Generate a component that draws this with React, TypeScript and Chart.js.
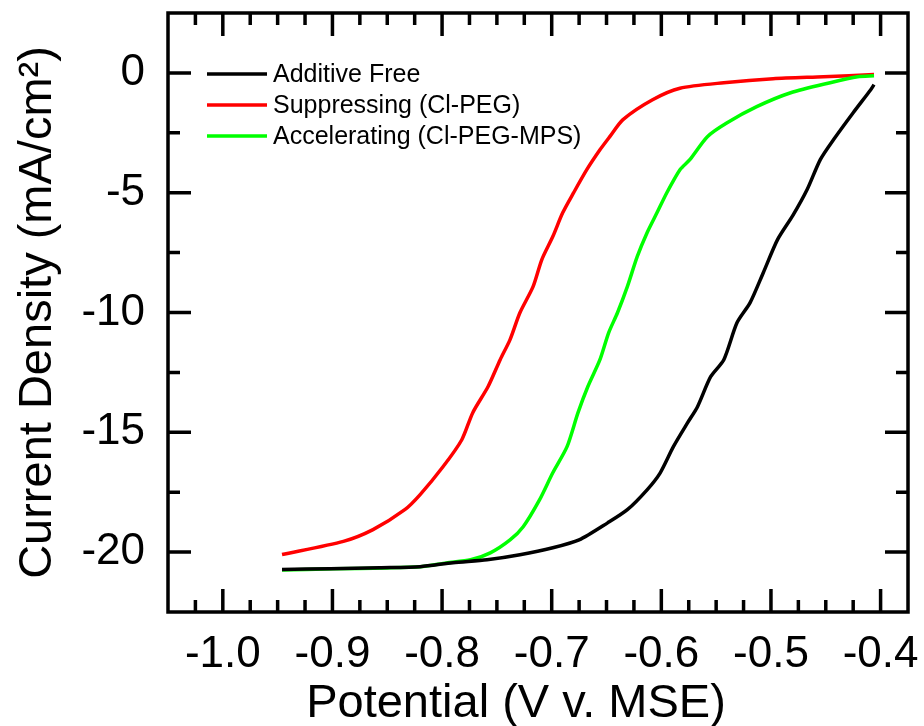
import React, { useEffect, useRef } from "react";
import { Chart, registerables } from "chart.js";

Chart.register(...registerables);

// ---------- data ----------
const seriesLabels = ["Additive Free", "Suppressing (Cl-PEG)", "Accelerating (Cl-PEG-MPS)"];
const seriesColors = ["#000000", "#ff0000", "#00ff00"];

const additiveFreeX = [-0.946, -0.902, -0.857, -0.82, -0.79, -0.759, -0.729, -0.699, -0.675, -0.649, -0.631, -0.613, -0.601, -0.589, -0.576, -0.567, -0.555, -0.543, -0.531, -0.519, -0.507, -0.494, -0.48, -0.467, -0.455, -0.443, -0.425, -0.409, -0.406];
const additiveFreeY = [-20.73, -20.69, -20.65, -20.61, -20.44, -20.32, -20.11, -19.82, -19.49, -18.78, -18.23, -17.4, -16.69, -15.6, -14.6, -13.93, -12.68, -11.97, -10.43, -9.59, -8.34, -6.96, -5.95, -4.87, -3.62, -2.79, -1.66, -0.7, -0.49];

const suppressingX = [-0.946, -0.89, -0.863, -0.834, -0.82, -0.799, -0.782, -0.772, -0.758, -0.747, -0.738, -0.729, -0.717, -0.709, -0.699, -0.69, -0.68, -0.668, -0.656, -0.647, -0.635, -0.608, -0.583, -0.543, -0.498, -0.452, -0.406];
const suppressingY = [-20.1, -19.55, -19.06, -18.23, -17.6, -16.43, -15.31, -14.18, -13.09, -11.97, -11.13, -10.01, -8.92, -7.79, -6.83, -5.84, -5.0, -4.04, -3.21, -2.66, -1.95, -1.12, -0.64, -0.41, -0.24, -0.16, -0.07];

const acceleratingX = [-0.946, -0.9, -0.85, -0.82, -0.796, -0.774, -0.756, -0.738, -0.726, -0.711, -0.699, -0.686, -0.676, -0.667, -0.656, -0.648, -0.64, -0.631, -0.622, -0.613, -0.604, -0.595, -0.583, -0.574, -0.558, -0.54, -0.513, -0.482, -0.446, -0.421, -0.406];
const acceleratingY = [-20.75, -20.7, -20.66, -20.61, -20.45, -20.32, -20.03, -19.49, -18.94, -17.81, -16.69, -15.6, -14.18, -13.09, -11.97, -10.84, -10.01, -8.92, -7.67, -6.67, -5.84, -5.0, -4.04, -3.62, -2.66, -2.08, -1.41, -0.83, -0.41, -0.16, -0.12];

const xMajorTicks = [-1.0, -0.9, -0.8, -0.7, -0.6, -0.5, -0.4];
const xMinorTicks = [-1.025, -0.975, -0.95, -0.925, -0.875, -0.85, -0.825, -0.775, -0.75, -0.725, -0.675, -0.65, -0.625, -0.575, -0.55, -0.525, -0.475, -0.45, -0.425];
const yMajorTicks = [0, -5, -10, -15, -20];
const yMinorTicks = [-2.5, -7.5, -12.5, -17.5];

const xMin = -1.05;
const xMax = -0.375;
const yMin = -22.5;
const yMax = 2.5;

const xTitle = "Potential (V v. MSE)";
const yTitle = "Current Density (mA/cm\u00B2)";

const FONT = "'Liberation Sans', Arial, Helvetica, sans-serif";

const toPoints = (xs: number[], ys: number[]) => xs.map((x, i) => ({ x, y: ys[i] }));

// ---------- plugins ----------
const frameTicksPlugin = {
  id: "frameTicks",
  afterDatasetsDraw(chart: any) {
    const { ctx, chartArea } = chart;
    const xs = chart.scales.x;
    const ys = chart.scales.y;
    const { left, right, top, bottom } = chartArea;
    const major = 23;
    const minor = 12;
    ctx.save();
    ctx.strokeStyle = "#000";
    ctx.lineWidth = 3.5;
    ctx.lineCap = "butt";
    ctx.beginPath();
    const vx = (v: number, len: number) => {
      const p = xs.getPixelForValue(v);
      ctx.moveTo(p, bottom);
      ctx.lineTo(p, bottom - len);
      ctx.moveTo(p, top);
      ctx.lineTo(p, top + len);
    };
    const vy = (v: number, len: number) => {
      const p = ys.getPixelForValue(v);
      ctx.moveTo(left, p);
      ctx.lineTo(left + len, p);
      ctx.moveTo(right, p);
      ctx.lineTo(right - len, p);
    };
    xMajorTicks.forEach((v) => vx(v, major));
    xMinorTicks.forEach((v) => vx(v, minor));
    yMajorTicks.forEach((v) => vy(v, major));
    yMinorTicks.forEach((v) => vy(v, minor));
    ctx.stroke();
    ctx.lineJoin = "miter";
    ctx.strokeRect(left, top, right - left, bottom - top);
    ctx.restore();
  },
};

const xTitlePlugin = {
  id: "xTitleText",
  afterDraw(chart: any) {
    const { ctx, chartArea } = chart;
    ctx.save();
    ctx.font = `47px ${FONT}`;
    ctx.fillStyle = "#000";
    ctx.textAlign = "center";
    ctx.textBaseline = "alphabetic";
    ctx.fillText(xTitle, chartArea.left + 348, chartArea.bottom + 105);
    ctx.restore();
  },
};

const legendPlugin = {
  id: "innerLegend",
  afterDraw(chart: any) {
    const { ctx, chartArea } = chart;
    ctx.save();
    ctx.font = `25px ${FONT}`;
    ctx.textBaseline = "middle";
    ctx.textAlign = "left";
    chart.data.datasets.forEach((ds: any, i: number) => {
      const y = chartArea.top + 61 + i * 31;
      ctx.strokeStyle = ds.borderColor;
      ctx.lineWidth = 3.5;
      ctx.beginPath();
      ctx.moveTo(chartArea.left + 39, y);
      ctx.lineTo(chartArea.left + 99, y);
      ctx.stroke();
      ctx.fillStyle = "#000";
      ctx.fillText(ds.label, chartArea.left + 105, y + 1);
    });
    ctx.restore();
  },
};

export default function App() {
  const canvasRef = useRef<HTMLCanvasElement>(null);

  useEffect(() => {
    const seriesX = [additiveFreeX, suppressingX, acceleratingX];
    const seriesY = [additiveFreeY, suppressingY, acceleratingY];
    const drawOrder = [0, 2, 1];
    const datasets = seriesLabels.map((label, i) => ({
      label,
      data: toPoints(seriesX[i], seriesY[i]),
      borderColor: seriesColors[i],
      backgroundColor: seriesColors[i],
      borderWidth: 3.5,
      pointRadius: 0,
      showLine: true,
      tension: 0.25,
      fill: false,
      order: drawOrder[i],
    }));

    const chart = new Chart(canvasRef.current as HTMLCanvasElement, {
      type: "scatter",
      data: { datasets },
      options: {
        animation: false,
        responsive: false,
        devicePixelRatio: 1,
        layout: { padding: { top: 13, right: 16, left: 0, bottom: 0 } },
        plugins: {
          legend: { display: false },
          tooltip: { enabled: false },
        },
        scales: {
          x: {
            type: "linear",
            min: xMin,
            max: xMax,
            grid: { display: false, drawTicks: false },
            border: { display: false },
            afterBuildTicks: (s: any) => {
              s.ticks = xMajorTicks.map((v) => ({ value: v }));
            },
            afterFit: (s: any) => {
              s.height = 114;
              s.paddingLeft = 0;
              s.paddingRight = 0;
              s.paddingTop = 0;
              s.paddingBottom = 0;
            },
            ticks: {
              autoSkip: false,
              maxRotation: 0,
              padding: 16,
              color: "#000",
              font: { family: FONT, size: 44 },
              callback: (v: any) => Number(v).toFixed(1),
            },
            title: { display: false },
          },
          y: {
            type: "linear",
            min: yMin,
            max: yMax,
            grid: { display: false, drawTicks: false },
            border: { display: false },
            afterBuildTicks: (s: any) => {
              s.ticks = yMajorTicks.map((v) => ({ value: v }));
            },
            afterFit: (s: any) => {
              s.width = 168;
              s.paddingLeft = 0;
              s.paddingRight = 0;
              s.paddingTop = 0;
              s.paddingBottom = 0;
            },
            ticks: {
              autoSkip: false,
              padding: 23,
              color: "#000",
              font: { family: FONT, size: 44 },
              callback: (v: any) => String(v),
            },
            title: {
              display: true,
              text: yTitle,
              color: "#000",
              font: { family: FONT, size: 47 },
              padding: { top: 10, bottom: 0 },
            },
          },
        },
      },
      plugins: [frameTicksPlugin, legendPlugin, xTitlePlugin],
    } as any);

    return () => chart.destroy();
  }, []);

  return (
    <div style={{ position: "fixed", left: 0, top: 0, width: 924, height: 726, background: "#fff" }}>
      <canvas ref={canvasRef} width={924} height={726} style={{ display: "block" }} />
    </div>
  );
}
